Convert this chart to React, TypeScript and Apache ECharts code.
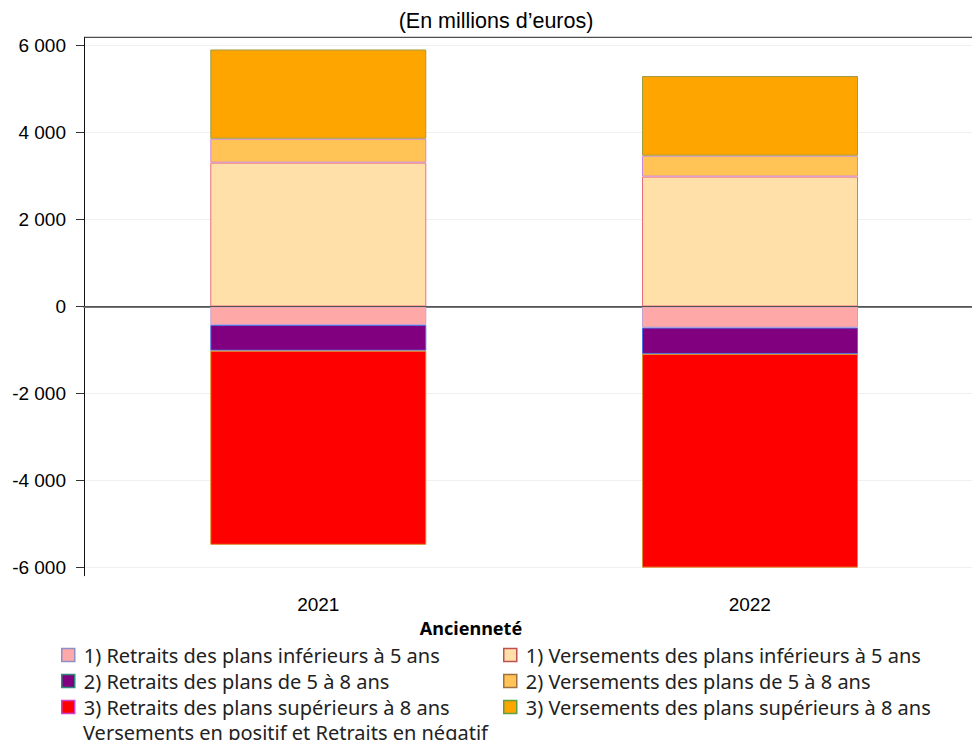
import React, { useEffect, useRef } from "react";
import * as echarts from "echarts";

const categories = ["2021", "2022"];
const yTicks = [-6000, -4000, -2000, 0, 2000, 4000, 6000];

const seriesNames = [
  "1) Versements des plans inférieurs à 5 ans",
  "2) Versements des plans de 5 à 8 ans",
  "3) Versements des plans supérieurs à 8 ans",
  "1) Retraits des plans inférieurs à 5 ans",
  "2) Retraits des plans de 5 à 8 ans",
  "3) Retraits des plans supérieurs à 8 ans",
];

const versementsInf5 = [3305, 2985];
const versements5a8 = [550, 480];
const versementsSup8 = [2050, 1830];
const retraitsInf5 = [-425, -485];
const retraits5a8 = [-590, -605];
const retraitsSup8 = [-4460, -4910];

const seriesValues = [
  versementsInf5,
  versements5a8,
  versementsSup8,
  retraitsInf5,
  retraits5a8,
  retraitsSup8,
];

const fills = ["#FFE0A8", "#FFC455", "#FFA500", "#FFA8A8", "#800080", "#FF0000"];
const borders = ["#E8707A", "#CC88DD", "#A09A40", "#C8A0D0", "#4F6FE0", "#D89030"];
const legendBorders = ["#C05050", "#A07040", "#60A040", "#8F8FC8", "#2E8B7A", "#D040D0"];

const fmt = (v: number) => {
  const s = Math.abs(v).toString().replace(/\B(?=(\d{3})+(?!\d))/g, " ");
  return (v < 0 ? "-" : "") + s;
};

export default function App() {
  const ref = useRef<HTMLDivElement>(null);
  useEffect(() => {
    if (!ref.current) return;
    const chart = echarts.init(ref.current, null, { renderer: "svg" });
    const legendFont = "Noto Sans";
    const legendItem = (i: number) => ({
      name: seriesNames[i],
      itemStyle: { color: fills[i], borderColor: legendBorders[i], borderWidth: 1.5 },
    });
    const yMin = -6185;
    const yMax = 6185;
    chart.setOption({
      animation: false,
      backgroundColor: "#ffffff",
      grid: [
        { left: 84, right: 0, top: 37.3, bottom: 164.3, containLabel: false },
        { left: 102.45, right: 6.15, top: 37.3, bottom: 164.3, containLabel: false },
      ],
      xAxis: [
        {
          type: "value",
          gridIndex: 0,
          min: 0.457,
          max: 2.515,
          axisLine: { show: true, lineStyle: { color: "#777", width: 2 } },
          axisTick: { show: true, customValues: [1, 2], length: 10, lineStyle: { color: "#555" } },
          axisLabel: {
            customValues: [1, 2],
            formatter: (v: number) => categories[Math.round(v) - 1],
            fontFamily: "Liberation Sans",
            fontSize: 19,
            color: "#000",
            margin: 19,
          },
          splitLine: { show: false },
        },
        {
          type: "category",
          gridIndex: 1,
          data: categories,
          show: false,
        },
      ],
      yAxis: [
        {
          type: "value",
          gridIndex: 0,
          min: yMin,
          max: yMax,
          axisLine: { show: true, lineStyle: { color: "#111", width: 1 } },
          axisTick: { show: true, customValues: yTicks, length: 8, lineStyle: { color: "#333" } },
          axisLabel: {
            customValues: yTicks,
            formatter: (v: number) => fmt(v),
            fontFamily: "Liberation Sans",
            fontSize: 19,
            color: "#000",
            margin: 18,
          },
          splitLine: { show: true, lineStyle: { color: "#f0f0f0", width: 1 } },
        },
        {
          type: "value",
          gridIndex: 1,
          min: yMin,
          max: yMax,
          show: false,
          splitLine: { show: false },
        },
      ],
      legend: [
        {
          orient: "vertical",
          left: 56,
          top: 637,
          itemWidth: 13,
          itemHeight: 13,
          itemGap: 0,
          icon: "rect",
          textStyle: { fontFamily: legendFont, fontSize: 20, color: "#222", lineHeight: 26, padding: [0, 0, 0, 4] },
          data: [legendItem(3), legendItem(4), legendItem(5)],
          selectedMode: false,
        },
        {
          orient: "vertical",
          left: 498,
          top: 637,
          itemWidth: 13,
          itemHeight: 13,
          itemGap: 0,
          icon: "rect",
          textStyle: { fontFamily: legendFont, fontSize: 20, color: "#222", lineHeight: 26, padding: [0, 0, 0, 4] },
          data: [legendItem(0), legendItem(1), legendItem(2)],
          selectedMode: false,
        },
      ],
      graphic: [
        {
          type: "text",
          x: 496,
          y: 21,
          style: {
            text: "(En millions d’euros)",
            fontFamily: "Liberation Sans",
            fontSize: 21.5,
            fill: "#000",
            align: "center",
            verticalAlign: "middle",
          },
        },
        {
          type: "line",
          z: 100,
          shape: { x1: 84, y1: 37.3, x2: 972, y2: 37.3 },
          style: { stroke: "#222", lineWidth: 1 },
        },
        {
          type: "text",
          x: 471,
          y: 628,
          style: {
            text: "Ancienneté",
            fontFamily: legendFont,
            fontWeight: "bold",
            fontSize: 18,
            fill: "#000",
            align: "center",
            verticalAlign: "middle",
          },
        },
        {
          type: "text",
          x: 83,
          y: 732,
          style: {
            text: "Versements en positif et Retraits en négatif",
            fontFamily: legendFont,
            fontSize: 20,
            fill: "#222",
            align: "left",
            verticalAlign: "middle",
          },
        },
      ],
      series: [
        ...seriesValues.map((vals, i) => ({
          name: seriesNames[i],
          type: "bar",
          stack: "total",
          xAxisIndex: 1,
          yAxisIndex: 1,
          barWidth: 216,
          data: vals,
          itemStyle: { color: fills[i], borderColor: borders[i], borderWidth: 1 },
          emphasis: { disabled: true },
        })),
        {
          name: "zero",
          type: "line",
          xAxisIndex: 0,
          yAxisIndex: 0,
          data: [],
          silent: true,
          markLine: {
            silent: true,
            symbol: ["none", "none"],
            z: 10,
            label: { show: false },
            lineStyle: { color: "#555", width: 1, type: "solid" },
            data: [{ yAxis: 0 }],
          },
        },
      ],
    });
    return () => chart.dispose();
  }, []);
  return (
    <div
      ref={ref}
      style={{ position: "fixed", left: 0, top: 0, width: 972, height: 740 }}
    />
  );
}
